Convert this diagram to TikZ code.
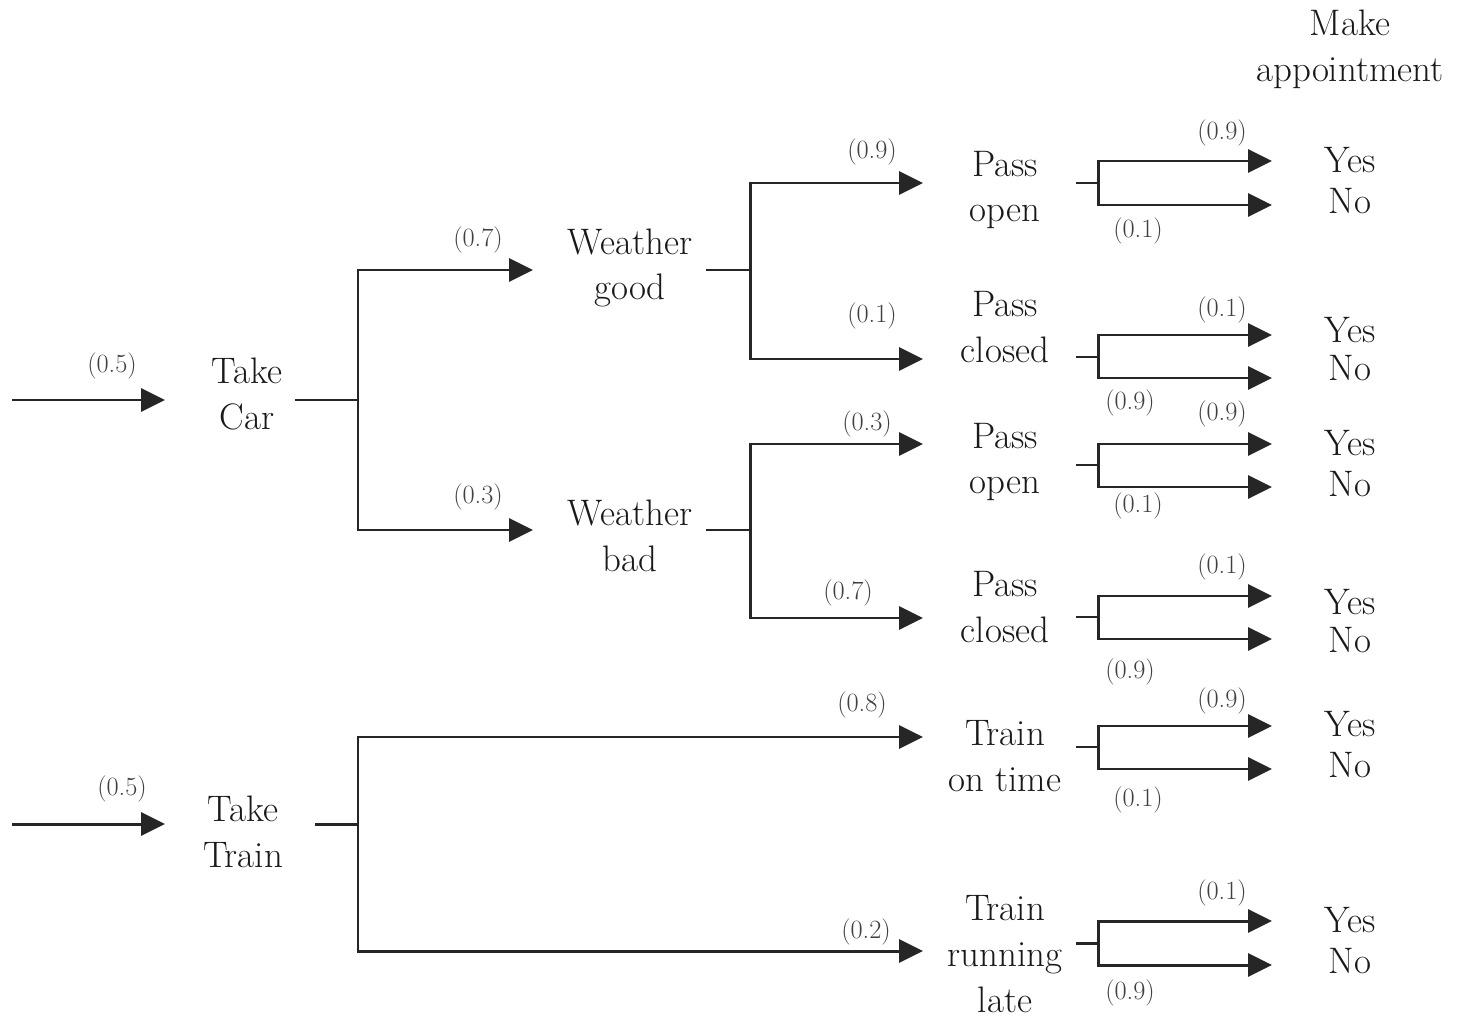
\documentclass[tikz,border=0pt]{standalone}
\usetikzlibrary{arrows.meta}
\begin{document}
\begin{tikzpicture}[x=0.02cm,y=-0.02cm,
  txt/.style={font=\fontsize{21}{26}\selectfont, align=center, inner sep=0pt, text=black!90},
  prob/.style={font=\fontsize{15}{18}\selectfont, inner sep=0pt, text=black!75},
  conn/.style={line width=1.7pt, draw=black!85, line join=miter},
  arr/.style={conn, -{Triangle[length=0.48cm,width=0.46cm]}}]
\useasboundingbox (0,0) rectangle (1463,1020);

% text nodes
\node[txt] (mk) at (1350,49) {Make\\appointment};
\node[txt] (car) at (247,394) {Take\\Car};
\node[txt] (train) at (243,832) {Take\\Train};
\node[txt] (wg) at (630,268) {Weather\\good};
\node[txt] (wb) at (630,536) {Weather\\bad};
\node[txt] (po1) at (1005,190) {Pass\\open};
\node[txt] (pc1) at (1005,327) {Pass\\closed};
\node[txt] (po2) at (1005,462) {Pass\\open};
\node[txt] (pc2) at (1005,607) {Pass\\closed};
\node[txt] (tot) at (1005,756) {Train\\on time};
\node[txt] (trl) at (1005,954) {Train\\running\\late};

% entry arrows
\coordinate (c0) at (12,400); \coordinate (c1) at (165,400);
\coordinate (t0) at (12,824); \coordinate (t1) at (165,824);
\draw[arr] (c0) -- (c1);
\draw[arr] (t0) -- (t1);
\node[prob] (pcar) at (112,366) {(0.5)};
\node[prob] (ptrain) at (122,789) {(0.5)};

% take car fork
\coordinate (cs) at (295,400); \coordinate (cj) at (358,400);
\coordinate (wgt) at (533,270); \coordinate (wbt) at (533,530);
\draw[conn] (cs) -- (cj);
\draw[arr] (cj) |- (wgt);
\draw[arr] (cj) |- (wbt);
\node[prob] at (478,240) {(0.7)};
\node[prob] at (478,497) {(0.3)};

% weather good fork
\coordinate (gs) at (706,270); \coordinate (gj) at (750,270);
\coordinate (po1t) at (923,183); \coordinate (pc1t) at (923,359);
\draw[conn] (gs) -- (gj);
\draw[arr] (gj) |- (po1t);
\draw[arr] (gj) |- (pc1t);
\node[prob] at (872,152) {(0.9)};
\node[prob] at (872,316) {(0.1)};

% weather bad fork
\coordinate (bs) at (706,530); \coordinate (bj) at (750,530);
\coordinate (po2t) at (923,444); \coordinate (pc2t) at (923,618);
\draw[conn] (bs) -- (bj);
\draw[arr] (bj) |- (po2t);
\draw[arr] (bj) |- (pc2t);
\node[prob] at (867,424) {(0.3)};
\node[prob] at (848,593) {(0.7)};

% take train fork
\coordinate (ts) at (315,824); \coordinate (tj) at (358,824);
\coordinate (tott) at (923,737); \coordinate (trlt) at (923,951);
\draw[conn] (ts) -- (tj);
\draw[arr] (tj) |- (tott);
\draw[arr] (tj) |- (trlt);
\node[prob] at (862,705) {(0.8)};
\node[prob] at (866,932) {(0.2)};

% final forks
\foreach \nm/\sy/\uy/\ly/\pu/\yu/\pl/\xl/\yl/\yy/\yn in {
  a/183/161/205/0.9/133/0.1/1138/231/160/201,
  b/357/335/378/0.1/310/0.9/1130/403/330/368,
  c/465/444/487/0.9/414/0.1/1138/506/443/484,
  d/617/596/639/0.1/567/0.9/1130/672/602/640,
  e/747/726/769/0.9/701/0.1/1138/800/724/765,
  f/943/921/965/0.1/893/0.9/1130/993/920/961}{
  \coordinate (s\nm) at (1076,\sy);
  \coordinate (j\nm) at (1098,\sy);
  \coordinate (u\nm) at (1272,\uy);
  \coordinate (l\nm) at (1272,\ly);
  \draw[conn] (s\nm) -- (j\nm);
  \draw[arr] (j\nm) |- (u\nm);
  \draw[arr] (j\nm) |- (l\nm);
  \node[prob] (pu\nm) at (1222,\yu) {(\pu)};
  \node[prob] (pl\nm) at (\xl,\yl) {(\pl)};
  \node[txt] (y\nm) at (1350,\yy) {Yes};
  \node[txt] (n\nm) at (1350,\yn) {No};
}
\end{tikzpicture}
\end{document}
